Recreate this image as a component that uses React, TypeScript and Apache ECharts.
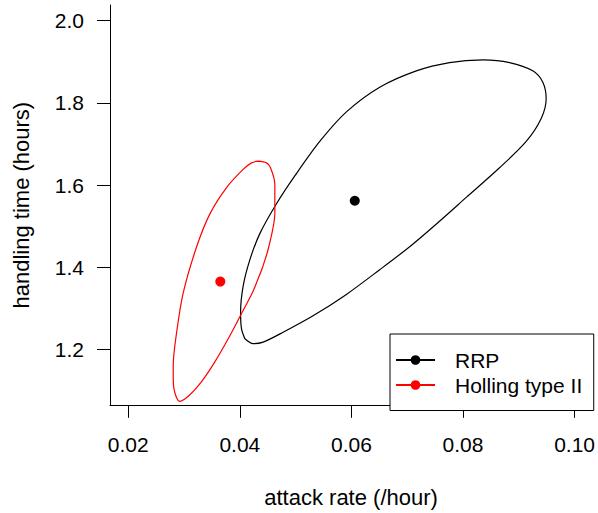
import React, { useEffect, useRef } from "react";
import * as echarts from "echarts";

const xTicks = [0.02, 0.04, 0.06, 0.08, 0.1];
const yTicks = [1.2, 1.4, 1.6, 1.8, 2.0];
const seriesNames = ["RRP", "Holling type II"];
const seriesColors = ["#000000", "#ff0000"];

// point estimates [attack rate, handling time]
const rrpEstimate = [0.0606, 1.562];
const hollingEstimate = [0.0365, 1.3655];

// confidence contours [attack rate, handling time]
const rrpContour = [
  [0.0409, 1.2264], [0.04238, 1.2144], [0.04417, 1.2182], [0.04775, 1.2422],
  [0.05312, 1.2823], [0.0591, 1.3343], [0.06507, 1.3943], [0.07044, 1.4501],
  [0.07461, 1.4981], [0.08059, 1.57], [0.08655, 1.642], [0.09133, 1.706],
  [0.09402, 1.7619], [0.09491, 1.8098], [0.09431, 1.8499], [0.09251, 1.8777],
  [0.08834, 1.8978], [0.08356, 1.9041], [0.0776, 1.8978], [0.07164, 1.8777],
  [0.06507, 1.8379], [0.0591, 1.7779], [0.05432, 1.706], [0.04994, 1.624],
  [0.04654, 1.554], [0.04358, 1.482], [0.04179, 1.4182], [0.04059, 1.3542],
  [0.04013, 1.2902], [0.0403, 1.2504], [0.0409, 1.2264],
];
const hollingContour = [
  [0.04328, 1.658], [0.04478, 1.654], [0.0455, 1.642], [0.04627, 1.602],
  [0.04627, 1.53], [0.04519, 1.4501], [0.04412, 1.4022], [0.04322, 1.3703],
  [0.04224, 1.3381], [0.04009, 1.2823], [0.03791, 1.2264], [0.03552, 1.1703],
  [0.03314, 1.1223], [0.03105, 1.0904], [0.02926, 1.0743], [0.02836, 1.0945],
  [0.02806, 1.1305], [0.02806, 1.1624], [0.02867, 1.2422], [0.02985, 1.3381],
  [0.03225, 1.45], [0.03463, 1.53], [0.03762, 1.594], [0.04059, 1.638],
  [0.04209, 1.654], [0.04328, 1.658],
];

const X_MIN = 0.016723;
const X_MAX = 0.10315;
const Y_MIN = 1.0647;
const Y_MAX = 2.0377;

const FONT = "Liberation Sans, Arial, Helvetica, sans-serif";

export default function App() {
  const ref = useRef<HTMLDivElement>(null);
  useEffect(() => {
    if (!ref.current) return;
    const chart = echarts.init(ref.current, undefined, { renderer: "svg" });
    const axisCommon = {
      type: "value",
      axisLine: { show: true, onZero: false, lineStyle: { color: "#000", width: 1 } },
      splitLine: { show: false },
    };
    chart.setOption({
      animation: false,
      backgroundColor: "#ffffff",
      textStyle: { fontFamily: FONT },
      grid: { left: 110, right: 5.3, top: 5, bottom: 102.3, containLabel: false },
      xAxis: {
        ...axisCommon,
        min: X_MIN,
        max: X_MAX,
        name: "attack rate (/hour)",
        nameLocation: "middle",
        nameGap: 91.7,
        nameTextStyle: { fontSize: 22, color: "#000", fontFamily: FONT, verticalAlign: "middle" },
        axisTick: { show: true, inside: false, length: 12.5, customValues: xTicks, lineStyle: { color: "#000" } },
        axisLabel: {
          show: true,
          customValues: xTicks,
          margin: 39.3,
          fontSize: 21,
          color: "#000",
          fontFamily: FONT,
          verticalAlign: "middle",
          formatter: (v: number) => v.toFixed(2),
        },
      },
      yAxis: {
        ...axisCommon,
        min: Y_MIN,
        max: Y_MAX,
        name: "handling time (hours)",
        nameLocation: "middle",
        nameGap: 88.6,
        nameRotate: 90,
        nameTextStyle: { fontSize: 22, color: "#000", fontFamily: FONT, verticalAlign: "middle" },
        axisTick: { show: true, inside: false, length: 13, customValues: yTicks, lineStyle: { color: "#000" } },
        axisLabel: {
          show: true,
          customValues: yTicks,
          margin: 26,
          fontSize: 21,
          color: "#000",
          fontFamily: FONT,
          align: "right",
          verticalAlign: "middle",
          formatter: (v: number) => v.toFixed(1),
        },
      },
      legend: {
        show: true,
        data: seriesNames,
        orient: "vertical",
        left: 390,
        top: 334,
        padding: [15.5, 11.5, 15, 5],
        itemGap: 4,
        itemWidth: 39,
        itemHeight: 12,
        borderColor: "#000",
        borderWidth: 1,
        borderRadius: 0,
        backgroundColor: "#ffffff",
        textStyle: { fontSize: 21, color: "#000", fontFamily: FONT, padding: [0, 0, 0, 15] },
        selectedMode: false,
      },
      series: [
        {
          name: seriesNames[0],
          type: "line",
          data: rrpContour,
          smooth: 0.3,
          symbol: "circle",
          symbolSize: 10,
          showSymbol: false,
          color: seriesColors[0],
          lineStyle: { color: seriesColors[0], width: 1.2 },
          itemStyle: { color: seriesColors[0] },
          z: 2,
        },
        {
          name: seriesNames[1],
          type: "line",
          data: hollingContour,
          smooth: 0.3,
          symbol: "circle",
          symbolSize: 10,
          showSymbol: false,
          color: seriesColors[1],
          lineStyle: { color: seriesColors[1], width: 1.2 },
          itemStyle: { color: seriesColors[1] },
          z: 3,
        },
        {
          name: "RRP estimate",
          type: "scatter",
          data: [rrpEstimate],
          symbol: "circle",
          symbolSize: 10,
          itemStyle: { color: seriesColors[0], opacity: 1 },
          z: 4,
        },
        {
          name: "Holling type II estimate",
          type: "scatter",
          data: [hollingEstimate],
          symbol: "circle",
          symbolSize: 10,
          itemStyle: { color: seriesColors[1], opacity: 1 },
          z: 4,
        },
      ],
    });
    return () => chart.dispose();
  }, []);
  return (
    <div
      ref={ref}
      style={{ position: "absolute", left: 0, top: 0, width: 598, height: 513 }}
    />
  );
}
